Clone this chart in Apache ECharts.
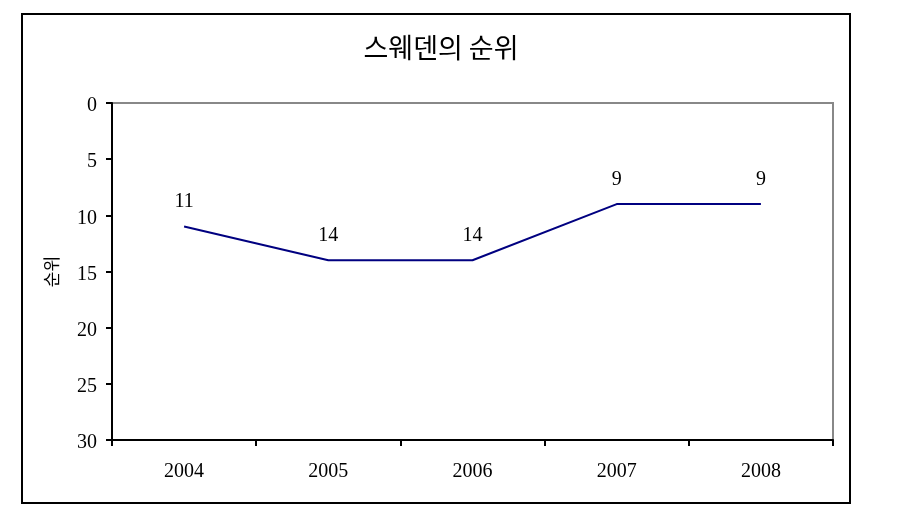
<!DOCTYPE html>
<html>
<head>
<meta charset="utf-8">
<script src="https://cdn.jsdelivr.net/npm/echarts@6/dist/echarts.min.js"></script>
<style>
html,body{margin:0;padding:0;background:#fff;}
#c{width:897px;height:532px;}
</style>
</head>
<body>
<div id="c"></div>
<script>
const categories = ['2004', '2005', '2006', '2007', '2008'];
const ranks = [11, 14, 14, 9, 9];
const titleText = '스웨덴의 순위';
const yAxisName = '순위';

const chart = echarts.init(document.getElementById('c'), null, {renderer: 'canvas'});
chart.setOption({
  animation: false,
  backgroundColor: '#fff',
  title: {
    text: titleText,
    left: 436,
    textAlign: 'center',
    top: 29,
    textStyle: {fontFamily: 'Noto Sans CJK KR', fontSize: 27, fontWeight: 'normal', color: '#000'}
  },
  graphic: [{
    type: 'rect',
    shape: {x: 22, y: 14, width: 828, height: 489},
    style: {fill: 'none', stroke: '#000', lineWidth: 2},
    z: 0
  }],
  grid: {left: 112, top: 103, right: 64, bottom: 92, show: true, borderColor: '#888', borderWidth: 2, backgroundColor: 'transparent'},
  xAxis: {
    type: 'category',
    data: categories,
    position: 'bottom',
    boundaryGap: true,
    axisLine: {onZero: false, lineStyle: {color: '#000', width: 2}},
    axisTick: {show: true, alignWithLabel: false, length: 6, lineStyle: {color: '#000', width: 2}},
    axisLabel: {margin: 22, fontFamily: 'Liberation Serif', fontSize: 20, color: '#000'},
    splitLine: {show: false}
  },
  yAxis: {
    type: 'value',
    inverse: true,
    min: 0, max: 30, interval: 5,
    name: yAxisName,
    nameLocation: 'middle',
    nameGap: 52,
    nameRotate: 90,
    nameTextStyle: {fontFamily: 'Noto Sans CJK KR', fontSize: 17, color: '#000'},
    axisLine: {show: true, lineStyle: {color: '#000', width: 2}},
    axisTick: {show: true, length: 6, lineStyle: {color: '#000', width: 2}},
    axisLabel: {
      margin: 15,
      formatter: '{a|{value}}',
      rich: {a: {padding: [6, 0, 0, 0], fontFamily: 'Liberation Serif', fontSize: 20, color: '#000'}},
      fontFamily: 'Liberation Serif', fontSize: 20, color: '#000'
    },
    splitLine: {show: false}
  },
  series: [{
    type: 'line',
    data: ranks,
    showSymbol: true,
    symbol: 'circle',
    symbolSize: 1,
    itemStyle: {color: 'transparent', borderWidth: 0},
    lineStyle: {color: '#000080', width: 2},
    label: {show: true, position: 'top', distance: 14, fontFamily: 'Liberation Serif', fontSize: 20, color: '#000'}
  }]
});
</script>
</body>
</html>
